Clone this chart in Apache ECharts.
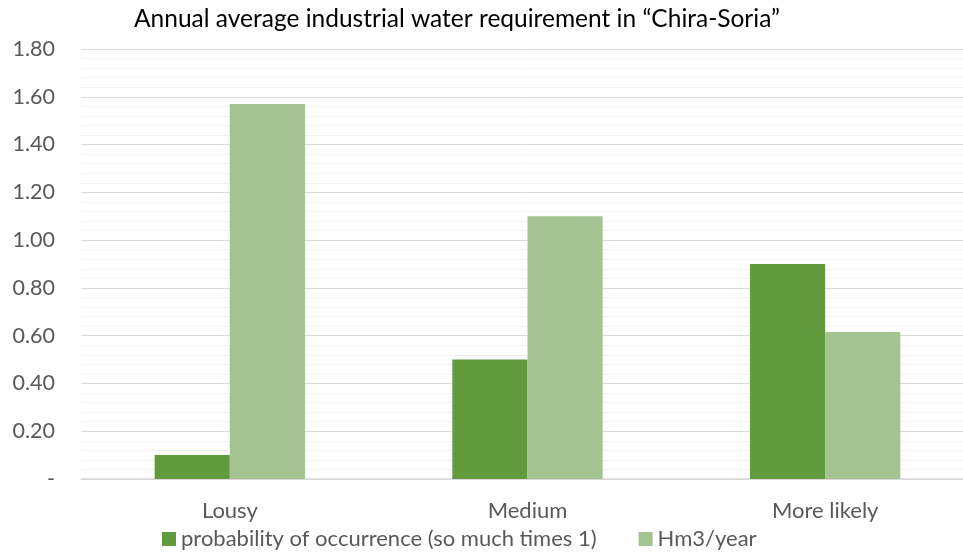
<!DOCTYPE html>
<html><head><meta charset="utf-8">
<script src="https://cdn.jsdelivr.net/npm/echarts@6/dist/echarts.min.js"></script>
<style>html,body{margin:0;padding:0;background:#fff;overflow:hidden;width:963px;height:553px}#c{width:974px;height:553px}</style>
</head><body><div id="c"></div>
<script>
const categories = ['Lousy', 'Medium', 'More likely'];
const probability = [0.10, 0.50, 0.90];
const hm3PerYear = [1.57, 1.10, 0.615];
const seriesNames = ['probability of occurrence (so much times 1)', 'Hm3/year'];
const titleText = 'Annual average industrial water requirement in \u201CChira-Soria\u201D';

const FONT = 'Lato';
const chart = echarts.init(document.getElementById('c'), null, {renderer: 'canvas'});
chart.setOption({
  animation: false,
  title: {
    text: titleText, left: 452, top: 2, textAlign: 'center',
    textStyle: {fontFamily: FONT, fontSize: 24.5, fontWeight: 'normal', color: '#000'}
  },
  legend: {
    bottom: -2, left: 157, itemWidth: 14, itemHeight: 14, itemGap: 42,
    icon: 'rect',
    textStyle: {fontFamily: FONT, fontSize: 22, color: '#595959'},
    data: seriesNames
  },
  grid: {left: 81, right: 0, top: 49, bottom: 74, containLabel: false},
  xAxis: {
    type: 'category', data: categories,
    axisLine: {lineStyle: {color: '#d9d9d9', width: 1.5}},
    axisTick: {show: false},
    axisLabel: {fontFamily: FONT, fontSize: 22, color: '#595959', margin: 21}
  },
  yAxis: {
    type: 'value', min: 0, max: 1.8, interval: 0.2,
    axisLine: {show: false}, axisTick: {show: false},
    axisLabel: {fontFamily: FONT, fontSize: 21.5, color: '#595959', margin: 26,
      formatter: v => v === 0 ? '-' : v.toFixed(2)},
    splitLine: {lineStyle: {color: '#d9d9d9', width: 1}},
    minorTick: {show: false, splitNumber: 5},
    minorSplitLine: {show: true, lineStyle: {color: '#f2f2f2', width: 1}}
  },
  series: [
    {name: seriesNames[0], type: 'bar', data: probability, barGap: '0%', barCategoryGap: '49.5%',
     itemStyle: {color: '#629B3E'}},
    {name: seriesNames[1], type: 'bar', data: hm3PerYear, barGap: '0%', barCategoryGap: '49.5%',
     itemStyle: {color: '#A3C491'}}
  ]
});
</script></body></html>
